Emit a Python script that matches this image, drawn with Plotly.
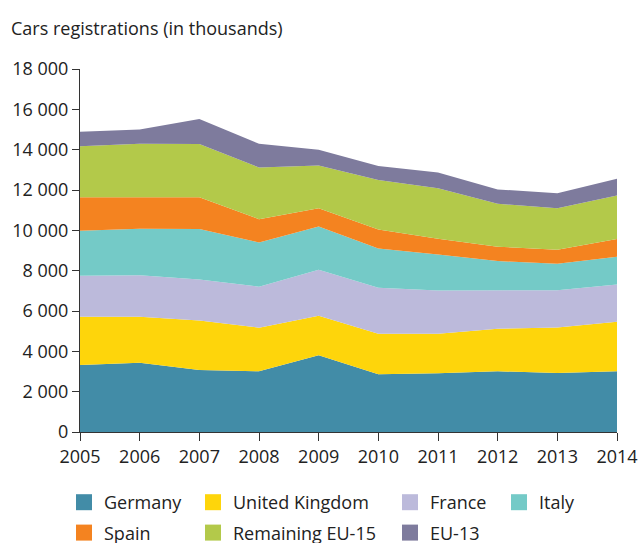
import plotly.graph_objects as go

years = [2005, 2006, 2007, 2008, 2009, 2010, 2011, 2012, 2013, 2014]
germany = [3320, 3440, 3070, 3010, 3800, 2860, 2910, 3010, 2920, 3010]
united_kingdom = [2400, 2280, 2460, 2165, 1970, 2015, 1965, 2115, 2265, 2460]
france = [2030, 2050, 2030, 2030, 2280, 2280, 2145, 1900, 1850, 1850]
italy = [2230, 2310, 2510, 2195, 2145, 1945, 1785, 1450, 1310, 1375]
spain = [1665, 1565, 1565, 1155, 905, 940, 780, 715, 695, 870]
remaining_eu15 = [2525, 2645, 2645, 2560, 2115, 2460, 2505, 2130, 2060, 2165]
eu13 = [715, 710, 1240, 1175, 780, 695, 780, 710, 745, 830]

series = [
    ("Germany", germany, "#428ca7", "legend"),
    ("United Kingdom", united_kingdom, "#fed50b", "legend2"),
    ("France", france, "#bcbadb", "legend3"),
    ("Italy", italy, "#74cac7", "legend4"),
    ("Spain", spain, "#f48320", "legend"),
    ("Remaining EU-15", remaining_eu15, "#b3c94a", "legend2"),
    ("EU-13", eu13, "#7e7b9d", "legend3"),
]

W, H = 641, 543
FONT = "Open Sans, Noto Sans, sans-serif"
TXT = "#222222"

fig = go.Figure()
for name, vals, color, _ in series:
    fig.add_trace(go.Scatter(
        x=years, y=vals, name=name, stackgroup="one", mode="lines",
        line=dict(width=0, color=color), fillcolor=color,
        showlegend=False, hoverinfo="x+y+name",
    ))

for name, vals, color, lg in series:
    fig.add_trace(go.Scatter(
        x=[None], y=[None], name=name, mode="markers",
        marker=dict(symbol="square", size=16, color=color),
        legend=lg, legendgroup=name, showlegend=True,
    ))

legend_x = {"legend": 64, "legend2": 193, "legend3": 390, "legend4": 499}
legend_top = 484

def leg(px):
    return dict(
        x=px / W, xref="container", xanchor="left",
        y=1 - legend_top / H, yref="container", yanchor="top",
        orientation="v", bgcolor="rgba(0,0,0,0)", borderwidth=0,
        font=dict(family=FONT, size=18, color=TXT),
        tracegroupgap=4, itemclick=False, itemdoubleclick=False,
    )

fig.update_layout(
    width=W, height=H,
    margin=dict(l=80, r=24, t=69, b=111, autoexpand=False),
    paper_bgcolor="white", plot_bgcolor="white",
    separators=", ",
    font=dict(family=FONT, size=18, color=TXT),
    title=dict(
        text="Cars registrations (in thousands)",
        x=11 / W, xref="container", xanchor="left",
        y=1 - 29 / H, yref="container", yanchor="middle",
        font=dict(family=FONT, size=18, color=TXT),
    ),
    xaxis=dict(
        range=[2005, 2014], tickmode="array", tickvals=years,
        ticktext=[str(y) for y in years],
        showgrid=False, zeroline=False, showline=True,
        linecolor="#333333", linewidth=1,
        ticks="outside", ticklen=8, tickcolor="#333333",
        tickfont=dict(family=FONT, size=18, color=TXT),
    ),
    yaxis=dict(
        range=[0, 18000], dtick=2000, tickformat=",d",
        showgrid=False, zeroline=False, showline=True,
        linecolor="#333333", linewidth=1,
        ticks="outside", ticklen=7, tickcolor="#333333",
        tickfont=dict(family=FONT, size=18, color=TXT),
    ),
    legend=leg(legend_x["legend"]),
    legend2=leg(legend_x["legend2"]),
    legend3=leg(legend_x["legend3"]),
    legend4=leg(legend_x["legend4"]),
    showlegend=True,
)

fig.write_html(
    "out.html",
    config={"displayModeBar": False},
    post_script="document.body.style.margin='0px';document.body.style.padding='0px';",
)
